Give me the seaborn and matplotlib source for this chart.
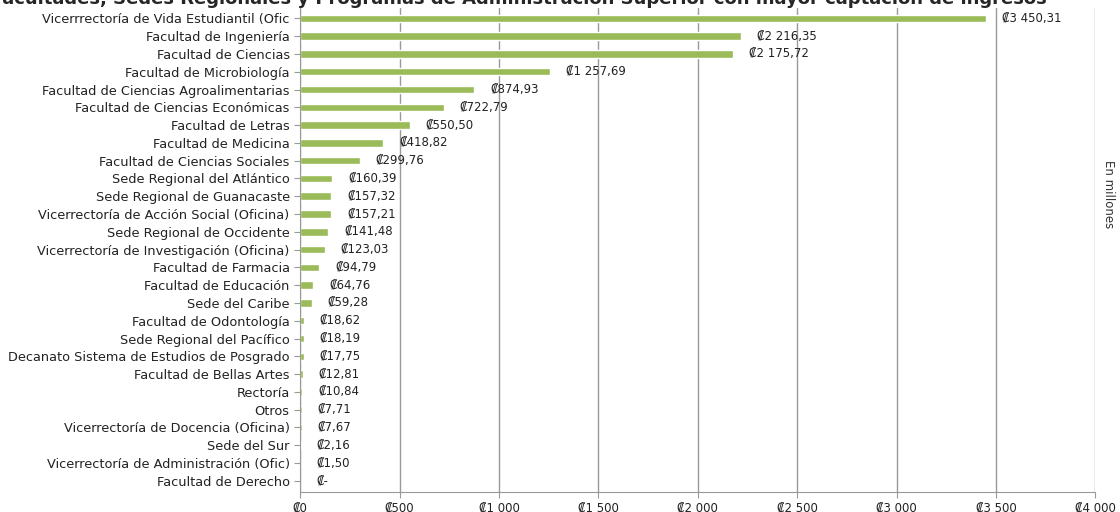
import pandas as pd
import matplotlib.pyplot as plt
import seaborn as sns

# Ingresos por unidad (millones de colones)
unidades = [
    'Vicerrrectoría de Vida Estudiantil (Ofic', 'Facultad de Ingeniería', 'Facultad de Ciencias',
    'Facultad de Microbiología', 'Facultad de Ciencias Agroalimentarias',
    'Facultad de Ciencias Económicas', 'Facultad de Letras', 'Facultad de Medicina',
    'Facultad de Ciencias Sociales', 'Sede Regional del Atlántico', 'Sede Regional de Guanacaste',
    'Vicerrectoría de Acción Social (Oficina)', 'Sede Regional de Occidente',
    'Vicerrectoría de Investigación (Oficina)', 'Facultad de Farmacia', 'Facultad de Educación',
    'Sede del Caribe', 'Facultad de Odontología', 'Sede Regional del Pacífico',
    'Decanato Sistema de Estudios de Posgrado', 'Facultad de Bellas Artes', 'Rectoría', 'Otros',
    'Vicerrectoría de Docencia (Oficina)', 'Sede del Sur', 'Vicerrectoría de Administración (Ofic)',
    'Facultad de Derecho',
]
ingresos = [3450.31, 2216.35, 2175.72, 1257.69, 874.93, 722.79, 550.50, 418.82, 299.76,
            160.39, 157.32, 157.21, 141.48, 123.03, 94.79, 64.76, 59.28, 18.62, 18.19,
            17.75, 12.81, 10.84, 7.71, 7.67, 2.16, 1.50, 0.0]
ticks_x = [0, 500, 1000, 1500, 2000, 2500, 3000, 3500, 4000]

titulo = 'Facultades, Sedes Regionales y Programas de Administración Superior con mayor captación de ingresos'

df = pd.DataFrame({'unidad': unidades, 'ingreso': ingresos})


def colones(v, dec=True):
    if v == 0:
        return '₡-'
    s = f'{v:,.2f}' if dec else f'{v:,.0f}'
    return '₡' + s.replace(',', ' ').replace('.', ',')


sns.set_style('white')
plt.rcParams['font.family'] = ['DejaVu Sans']

fig, ax = plt.subplots(figsize=(11.2, 5.12), dpi=100)
fig.subplots_adjust(left=0.268, right=0.978, top=0.985, bottom=0.04)

sns.barplot(data=df, x='ingreso', y='unidad', color='#9BBB59', width=0.42,
            saturation=1, ax=ax)

for i, v in enumerate(ingresos):
    ax.text(v + 80, i, colones(v), va='center', ha='left', fontsize=8.5, color='#222222')

ax.set_xlim(0, 4000)
ax.set_ylim(len(unidades) - 0.4, -0.6)
ax.set_xticks(ticks_x)
ax.set_xticklabels([colones(t, dec=False) if t else '₡0' for t in ticks_x], fontsize=8.5)
ax.tick_params(axis='y', labelsize=9.3, length=4, color='#999999', left=True, labelcolor='#222222')
ax.tick_params(axis='x', length=4, color='#999999', bottom=True, labelcolor='#222222')
ax.set_xlabel('')
ax.set_ylabel('')
ax.grid(axis='x', color='#999999', linewidth=1)
ax.set_axisbelow(True)
for s in ['top', 'right']:
    ax.spines[s].set_visible(False)
for s in ['left', 'bottom']:
    ax.spines[s].set_color('#999999')

fig.text(0.99, 0.62, 'En millones', rotation=-90, ha='center', va='center', fontsize=8.5,
         color='#333333')
fig.text(-0.008, 1.003, titulo, ha='left', va='center', fontsize=13, fontweight='bold')

plt.savefig('out.png', dpi=100)
